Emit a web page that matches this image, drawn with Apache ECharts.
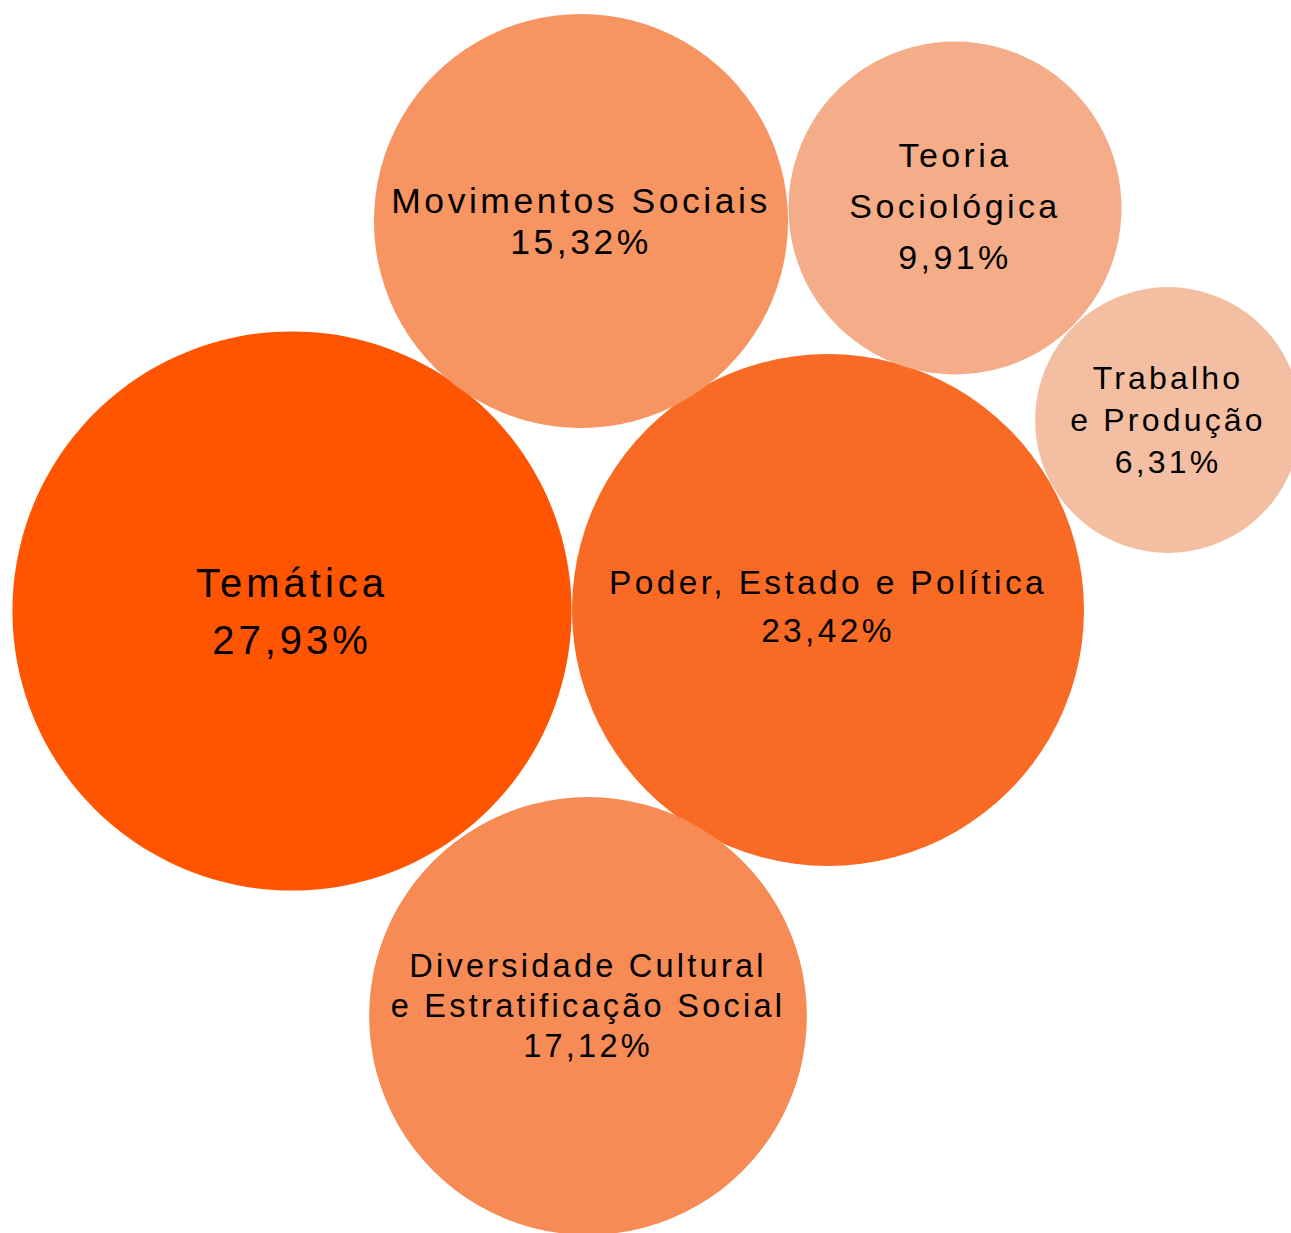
<!DOCTYPE html>
<html>
<head>
<meta charset="utf-8">
<title>Bubble chart</title>
<script src="https://cdn.jsdelivr.net/npm/echarts@6/dist/echarts.min.js"></script>
<style>
  html, body { margin: 0; padding: 0; background: #fff; }
  #chart { width: 1291px; height: 1233px; }
  /* the source text is set with wide letter spacing */
  #chart text { letter-spacing: 0.1em; }
</style>
</head>
<body>
<div id="chart"></div>
<script>
// data
var names = [
  'Temática',
  'Poder, Estado e Política',
  'Movimentos Sociais',
  'Diversidade Cultural\ne Estratificação Social',
  'Teoria\nSociológica',
  'Trabalho\ne Produção'
]
var shares = [27.93, 23.42, 15.32, 17.12, 9.91, 6.31]
// bubble centres in layout units
var xs = [292, 828, 581, 588, 955, 1168]
var ys = [611, 610, 221, 1016, 208, 420]

var colors = ['#ff5500', '#f96b24', '#f69462', '#f68b56', '#f4ad88', '#f3bea2']
var labelStyles = [
  { fontSize: 40, lineHeight: 57, offset: [0, 0] },
  { fontSize: 33.5, lineHeight: 48, offset: [0, -4] },
  { fontSize: 35.5, lineHeight: 41, offset: [0, 0] },
  { fontSize: 32.5, lineHeight: 40, offset: [0, -10] },
  { fontSize: 34, lineHeight: 51, offset: [0, -2] },
  { fontSize: 32, lineHeight: 42, offset: [0, 0] }
]

function pct(v) {
  return v.toFixed(2).replace('.', ',') + '%'
}

var seriesData = names.map(function (n, i) {
  return {
    name: n,
    value: [xs[i], ys[i], shares[i]],
    itemStyle: { color: colors[i], opacity: 1 },
    label: {
      fontSize: labelStyles[i].fontSize,
      lineHeight: labelStyles[i].lineHeight,
      offset: labelStyles[i].offset
    }
  }
})

var myChart = echarts.init(document.getElementById('chart'), null, { renderer: 'svg' })
myChart.setOption({
  backgroundColor: '#fff',
  animation: false,
  grid: { left: 0, right: 0, top: 0, bottom: 0 },
  xAxis: { type: 'value', min: 0, max: 1291, show: false },
  yAxis: { type: 'value', min: 0, max: 1233, inverse: true, show: false },
  series: [
    {
      type: 'scatter',
      clip: false,
      data: seriesData,
      symbolSize: function (val) {
        return 105.8 * Math.sqrt(val[2])
      },
      itemStyle: { opacity: 1 },
      label: {
        show: true,
        position: 'inside',
        color: '#000',
        opacity: 1,
        fontFamily: '"Liberation Sans", Arial, sans-serif',
        formatter: function (p) {
          return p.name + '\n' + pct(p.value[2])
        }
      },
      emphasis: { disabled: true }
    }
  ]
})
</script>
</body>
</html>
